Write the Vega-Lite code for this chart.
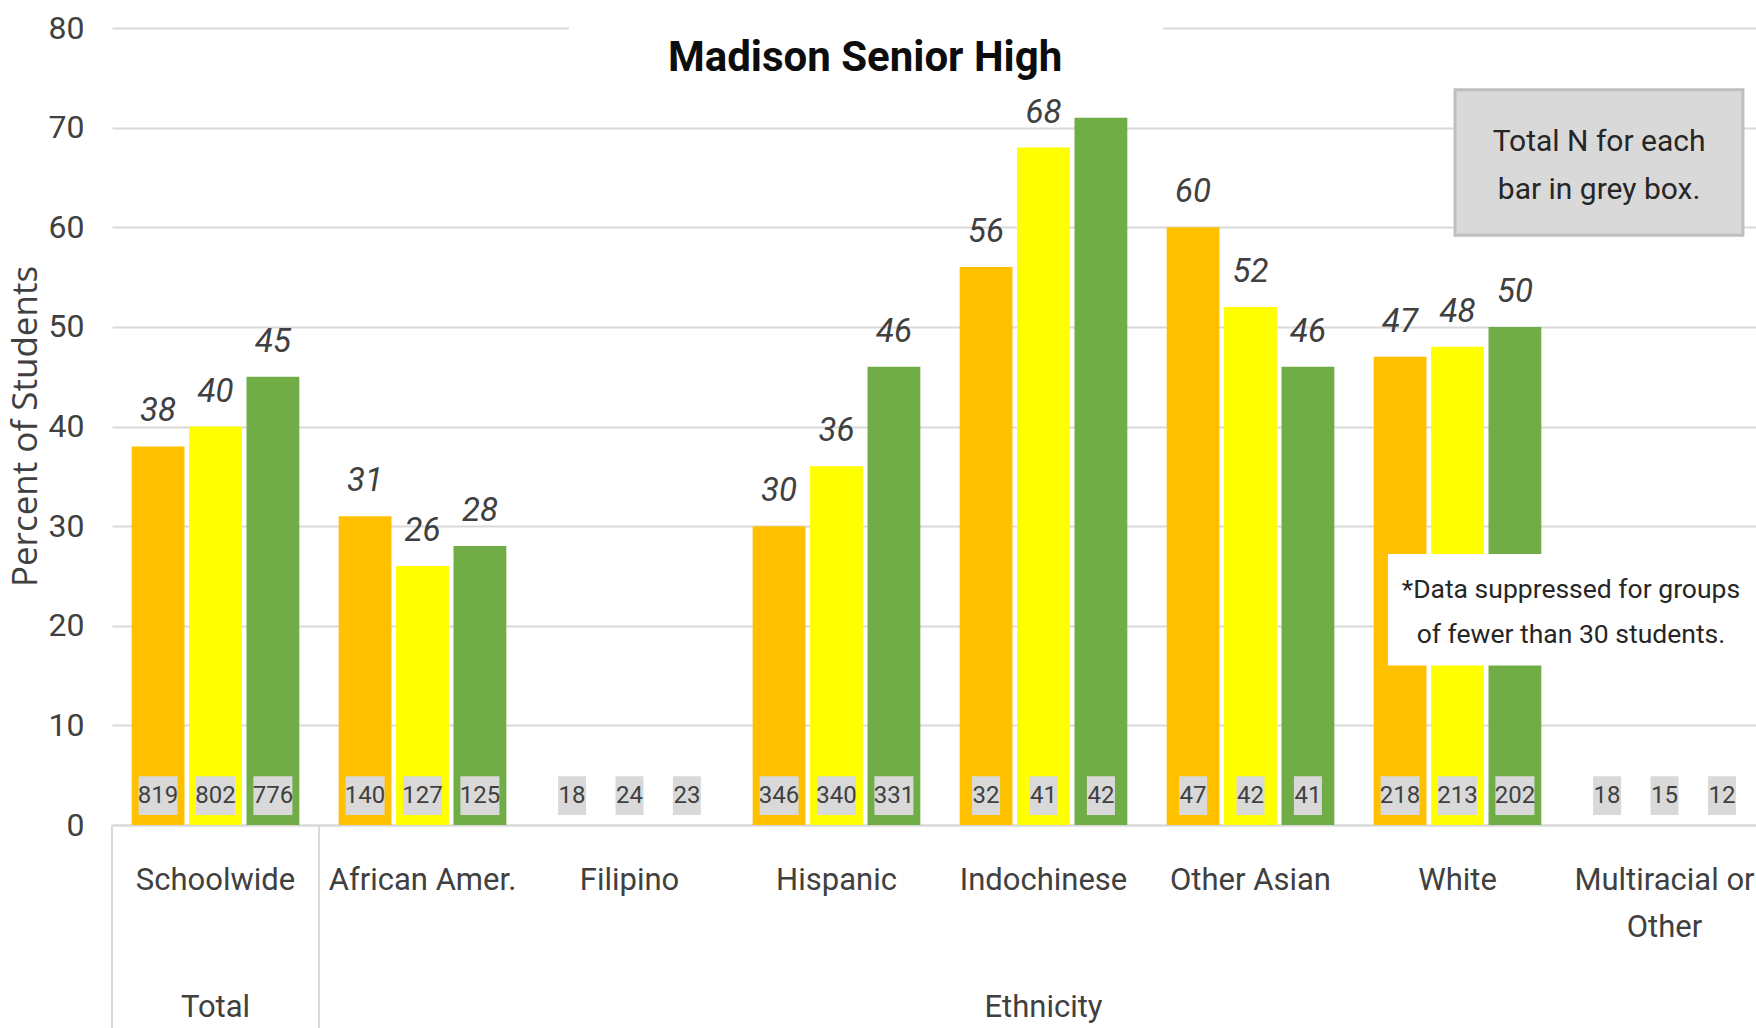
{
  "$schema": "https://vega.github.io/schema/vega-lite/v6.json",
  "autosize": {"type": "none"},
  "width": 1656,
  "height": 797,
  "padding": {"left": 112, "top": 28, "right": 0, "bottom": 203},
  "background": "white",
  "config": {
    "view": {"stroke": null},
    "font": "Roboto",
    "text": {"font": "Roboto", "color": "#404040"}
  },
  "datasets": {
    "scores": [
      {"group": "Schoolwide", "series": "s1", "pct": 38, "n": 819},
      {"group": "Schoolwide", "series": "s2", "pct": 40, "n": 802},
      {"group": "Schoolwide", "series": "s3", "pct": 45, "n": 776},
      {"group": "African Amer.", "series": "s1", "pct": 31, "n": 140},
      {"group": "African Amer.", "series": "s2", "pct": 26, "n": 127},
      {"group": "African Amer.", "series": "s3", "pct": 28, "n": 125},
      {"group": "Filipino", "series": "s1", "pct": null, "n": 18},
      {"group": "Filipino", "series": "s2", "pct": null, "n": 24},
      {"group": "Filipino", "series": "s3", "pct": null, "n": 23},
      {"group": "Hispanic", "series": "s1", "pct": 30, "n": 346},
      {"group": "Hispanic", "series": "s2", "pct": 36, "n": 340},
      {"group": "Hispanic", "series": "s3", "pct": 46, "n": 331},
      {"group": "Indochinese", "series": "s1", "pct": 56, "n": 32},
      {"group": "Indochinese", "series": "s2", "pct": 68, "n": 41},
      {"group": "Indochinese", "series": "s3", "pct": 71, "n": 42},
      {"group": "Other Asian", "series": "s1", "pct": 60, "n": 47},
      {"group": "Other Asian", "series": "s2", "pct": 52, "n": 42},
      {"group": "Other Asian", "series": "s3", "pct": 46, "n": 41},
      {"group": "White", "series": "s1", "pct": 47, "n": 218},
      {"group": "White", "series": "s2", "pct": 48, "n": 213},
      {"group": "White", "series": "s3", "pct": 50, "n": 202},
      {"group": "Multiracial or Other", "series": "s1", "pct": null, "n": 18},
      {"group": "Multiracial or Other", "series": "s2", "pct": null, "n": 15},
      {"group": "Multiracial or Other", "series": "s3", "pct": null, "n": 12}
    ]
  },
  "resolve": {"scale": {"x": "independent", "y": "independent"}},
  "layer": [
    {
      "data": {"name": "scores"},
      "encoding": {
        "x": {
          "field": "group",
          "type": "nominal",
          "sort": ["Schoolwide", "African Amer.", "Filipino", "Hispanic", "Indochinese", "Other Asian", "White", "Multiracial or Other"],
          "title": null,
          "scale": {"paddingInner": 0.19, "paddingOuter": 0.095},
          "axis": {
            "labelAngle": 0,
            "labelFont": "Roboto",
            "labelFontSize": 31,
            "labelColor": "#404040",
            "labelPadding": 40,
            "labelBaseline": "top",
            "labelLimit": 400,
            "labelLineHeight": 47,
            "labelExpr": "datum.value == 'Multiracial or Other' ? ['Multiracial or', 'Other'] : datum.value",
            "ticks": false,
            "domainColor": "#D9D9D9",
            "domainWidth": 2
          }
        },
        "xOffset": {
          "field": "series",
          "type": "nominal",
          "sort": ["s1", "s2", "s3"],
          "scale": {"paddingInner": 0.08, "paddingOuter": 0}
        }
      },
      "layer": [
        {
          "mark": {"type": "bar"},
          "encoding": {
            "y": {
              "field": "pct",
              "type": "quantitative",
              "title": "Percent of Students",
              "scale": {"domain": [0, 80], "nice": false},
              "axis": {
                "values": [0, 10, 20, 30, 40, 50, 60, 70, 80],
                "grid": true,
                "gridColor": "#D9D9D9",
                "gridWidth": 2,
                "domain": false,
                "ticks": false,
                "labelFont": "Roboto",
                "labelFontSize": 32,
                "labelColor": "#404040",
                "labelPadding": 28,
                "titleFont": "Open Sans",
                "titleFontSize": 35,
                "titleFontWeight": "normal",
                "titleColor": "#404040",
                "titleX": -87,
                "titleY": 398,
                "titleBaseline": "middle"
              }
            },
            "color": {
              "field": "series",
              "type": "nominal",
              "scale": {"domain": ["s1", "s2", "s3"], "range": ["#FFC000", "#FFFF00", "#70AD47"]},
              "legend": null
            }
          }
        },
        {
          "transform": [{"filter": "datum.n >= 100"}],
          "mark": {"type": "bar", "width": 39, "color": "#D9D9D9"},
          "encoding": {
            "y": {"datum": 1.0, "type": "quantitative", "title": "Percent of Students"},
            "y2": {"datum": 4.9}
          }
        },
        {
          "transform": [{"filter": "datum.n < 100"}],
          "mark": {"type": "bar", "width": 28, "color": "#D9D9D9"},
          "encoding": {
            "y": {"datum": 1.0, "type": "quantitative", "title": "Percent of Students"},
            "y2": {"datum": 4.9}
          }
        },
        {
          "mark": {"type": "text", "fontSize": 24, "baseline": "middle", "color": "#404040"},
          "encoding": {
            "y": {"datum": 2.95, "type": "quantitative", "title": "Percent of Students"},
            "text": {"field": "n", "type": "quantitative"}
          }
        },
        {
          "transform": [{"filter": "datum.pct != null"}],
          "mark": {"type": "text", "fontSize": 33, "fontStyle": "italic", "baseline": "alphabetic", "dy": -25, "color": "#404040"},
          "encoding": {
            "y": {"field": "pct", "type": "quantitative", "title": "Percent of Students"},
            "text": {"field": "pct", "type": "quantitative"}
          }
        }
      ]
    },
    {
      "data": {"values": [{}]},
      "layer": [
        {
          "mark": {"type": "rect", "color": "white"},
          "encoding": {
            "x": {"datum": 2.208, "type": "quantitative", "scale": {"domain": [0, 8], "nice": false, "zero": false}, "axis": null},
            "x2": {"datum": 5.077},
            "y": {"datum": 85, "type": "quantitative", "scale": {"domain": [0, 80], "nice": false}, "axis": null},
            "y2": {"datum": 73.3}
          }
        },
        {
          "mark": {"type": "text", "text": "Madison Senior High", "fontSize": 42, "fontWeight": "bold", "color": "#0D0D0D", "baseline": "middle", "align": "center"},
          "encoding": {
            "x": {"datum": 3.638, "type": "quantitative", "scale": {"domain": [0, 8], "nice": false, "zero": false}, "axis": null},
            "y": {"datum": 77.0, "type": "quantitative", "scale": {"domain": [0, 80], "nice": false}, "axis": null}
          }
        },
        {
          "mark": {"type": "rect", "color": "#D9D9D9", "stroke": "#BFBFBF", "strokeWidth": 3},
          "encoding": {
            "x": {"datum": 6.488, "type": "quantitative", "scale": {"domain": [0, 8], "nice": false, "zero": false}, "axis": null},
            "x2": {"datum": 7.879},
            "y": {"datum": 73.8, "type": "quantitative", "scale": {"domain": [0, 80], "nice": false}, "axis": null},
            "y2": {"datum": 59.2}
          }
        },
        {
          "mark": {"type": "text", "text": ["Total N for each", "bar in grey box."], "lineHeight": 48, "fontSize": 30, "color": "#262626", "baseline": "middle", "align": "center"},
          "encoding": {
            "x": {"datum": 7.184, "type": "quantitative", "scale": {"domain": [0, 8], "nice": false, "zero": false}, "axis": null},
            "y": {"datum": 68.55, "type": "quantitative", "scale": {"domain": [0, 80], "nice": false}, "axis": null}
          }
        },
        {
          "mark": {"type": "rect", "color": "white"},
          "encoding": {
            "x": {"datum": 6.164, "type": "quantitative", "scale": {"domain": [0, 8], "nice": false, "zero": false}, "axis": null},
            "x2": {"datum": 8.0},
            "y": {"datum": 27.2, "type": "quantitative", "scale": {"domain": [0, 80], "nice": false}, "axis": null},
            "y2": {"datum": 16.0}
          }
        },
        {
          "mark": {"type": "text", "text": ["*Data suppressed for groups", "of fewer than 30 students."], "lineHeight": 45, "fontSize": 26.5, "color": "#262626", "baseline": "middle", "align": "center"},
          "encoding": {
            "x": {"datum": 7.048, "type": "quantitative", "scale": {"domain": [0, 8], "nice": false, "zero": false}, "axis": null},
            "y": {"datum": 23.6, "type": "quantitative", "scale": {"domain": [0, 80], "nice": false}, "axis": null}
          }
        },
        {
          "mark": {"type": "rule", "color": "#D9D9D9", "strokeWidth": 2},
          "encoding": {
            "x": {"datum": 0, "type": "quantitative", "scale": {"domain": [0, 8], "nice": false, "zero": false}, "axis": null},
            "y": {"datum": 0, "type": "quantitative", "scale": {"domain": [0, 80], "nice": false}, "axis": null},
            "y2": {"datum": -20.5}
          }
        },
        {
          "mark": {"type": "rule", "color": "#D9D9D9", "strokeWidth": 2},
          "encoding": {
            "x": {"datum": 1, "type": "quantitative", "scale": {"domain": [0, 8], "nice": false, "zero": false}, "axis": null},
            "y": {"datum": 0, "type": "quantitative", "scale": {"domain": [0, 80], "nice": false}, "axis": null},
            "y2": {"datum": -20.5}
          }
        },
        {
          "mark": {"type": "text", "text": "Total", "fontSize": 31, "color": "#404040", "baseline": "middle", "align": "center"},
          "encoding": {
            "x": {"datum": 0.5, "type": "quantitative", "scale": {"domain": [0, 8], "nice": false, "zero": false}, "axis": null},
            "y": {"datum": -18.4, "type": "quantitative", "scale": {"domain": [0, 80], "nice": false}, "axis": null}
          }
        },
        {
          "mark": {"type": "text", "text": "Ethnicity", "fontSize": 31, "color": "#404040", "baseline": "middle", "align": "center"},
          "encoding": {
            "x": {"datum": 4.5, "type": "quantitative", "scale": {"domain": [0, 8], "nice": false, "zero": false}, "axis": null},
            "y": {"datum": -18.4, "type": "quantitative", "scale": {"domain": [0, 80], "nice": false}, "axis": null}
          }
        }
      ]
    }
  ]
}
